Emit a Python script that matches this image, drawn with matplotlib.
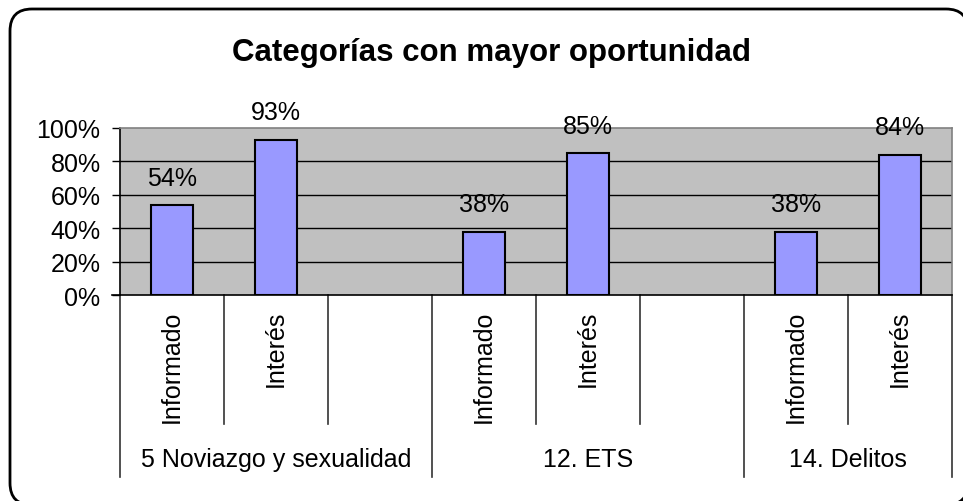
import matplotlib
matplotlib.use("Agg")
import matplotlib.pyplot as plt
from matplotlib.patches import FancyBboxPatch

plt.rcParams['font.family'] = ['Liberation Sans', 'DejaVu Sans']

# datos
grupos = ['5 Noviazgo y sexualidad', '12. ETS', '14. Delitos']
slots_por_grupo = [3, 3, 2]
etiquetas = ['Informado', 'Interés']
valores = [[54, 93], [38, 85], [38, 84]]
titulo = 'Categorías con mayor oportunidad'

fig = plt.figure(figsize=(9.63, 5.02), dpi=100)

# marco redondeado con sombra (se sale un poco de la imagen)
bg = fig.add_axes([0, 0, 1, 1], zorder=0)
bg.set_xlim(0, 963)
bg.set_ylim(502, 0)
bg.axis('off')
sombra = FancyBboxPatch((15, 15), 958, 496, boxstyle='round,pad=0,rounding_size=22',
                        facecolor='black', edgecolor='black', lw=2)
marco = FancyBboxPatch((10, 10), 958, 496, boxstyle='round,pad=0,rounding_size=22',
                       facecolor='white', edgecolor='black', lw=2)
bg.add_patch(sombra)
bg.add_patch(marco)

ax = fig.add_axes([120 / 963, 1 - 296 / 502, 832 / 963, 167 / 502], zorder=1)
ax.set_facecolor('#C0C0C0')

n_slots = sum(slots_por_grupo)
inicio = 0
centros_grupo = []
limites_grupo = [0]
for g, n in enumerate(slots_por_grupo):
    for k, v in enumerate(valores[g]):
        xc = inicio + k + 0.5
        ax.bar(xc, v, width=0.4, color='#9999FF', edgecolor='black', lw=1.5, zorder=3)
        ax.annotate(f'{v}%', (xc, v), xytext=(0, 11), textcoords='offset points',
                    ha='center', va='bottom', fontsize=18, zorder=4)
        ax.text(xc, -0.09, etiquetas[k], transform=ax.get_xaxis_transform(),
                rotation=90, ha='center', va='top', fontsize=18)
    centros_grupo.append(inicio + n / 2)
    inicio += n
    limites_grupo.append(inicio)

# separadores del eje de categorías
tr = ax.get_xaxis_transform()
for x in range(n_slots + 1):
    if x in limites_grupo:
        ax.plot([x, x], [0, -1.09], color='#333333', lw=1.2, transform=tr, clip_on=False)
    else:
        ax.plot([x, x], [0, -0.77], color='#333333', lw=1.2, transform=tr, clip_on=False)
for xc, nombre in zip(centros_grupo, grupos):
    ax.text(xc, -0.98, nombre, transform=tr, ha='center', va='center', fontsize=18)

ax.set_xlim(0, n_slots)
ax.set_ylim(0, 100)
ax.set_yticks(range(0, 101, 20))
ax.set_yticklabels([f'{t}%' for t in range(0, 101, 20)])
ax.tick_params(axis='y', length=6, width=1, pad=8, labelsize=18)
ax.set_xticks([])
for t in range(20, 100, 20):
    ax.axhline(t, color='black', lw=1, zorder=1)
ax.spines['left'].set_color('black')
ax.spines['bottom'].set_color('black')
ax.spines['top'].set_color('#808080')
ax.spines['right'].set_color('#808080')
for s in ax.spines.values():
    s.set_linewidth(1.2)
ax.plot([-0.075, 0], [0, 0], color='black', lw=1.2, clip_on=False)

fig.text(491 / 963, 1 - 53 / 502, titulo, ha='center', va='center',
         fontsize=22.5, fontweight='bold')

fig.savefig('out.png', dpi=100)
